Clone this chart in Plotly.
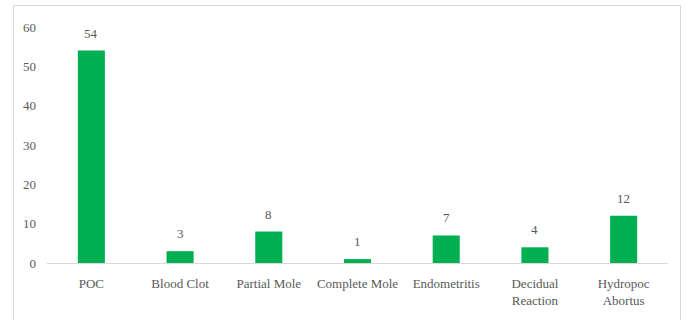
import plotly.graph_objects as go

categories = ["POC", "Blood Clot", "Partial Mole", "Complete Mole", "Endometritis",
              "Decidual<br>Reaction", "Hydropoc<br>Abortus"]
values = [54, 3, 8, 1, 7, 4, 12]
y_ticks = [0, 10, 20, 30, 40, 50, 60]

W, H = 686, 320
ML, MR, MT, MB = 47, 18, 27, 57
pw = W - ML - MR
ph = H - MT - MB

font = dict(family="Liberation Serif", size=13, color="#595959")

fig = go.Figure()
fig.add_trace(go.Bar(x=categories, y=values, marker_color="#00B050", marker_line_width=0,
                     hoverinfo="skip"))

for c, v in zip(categories, values):
    fig.add_annotation(x=c, y=v, text=str(v), showarrow=False, yanchor="bottom",
                       yshift=8, font=font)

def px_x(x):
    return (x - ML) / pw

def px_y(y):
    return (H - MB - y) / ph

fig.add_shape(type="rect", xref="paper", yref="paper",
              x0=px_x(13.5), x1=px_x(680.5), y0=px_y(330), y1=px_y(5.5),
              line=dict(color="#d9d9d9", width=1), fillcolor="rgba(0,0,0,0)", layer="below")

fig.update_layout(
    width=W, height=H,
    margin=dict(l=ML, r=MR, t=MT, b=MB, pad=0),
    paper_bgcolor="white", plot_bgcolor="white",
    showlegend=False, bargap=0.695,
    font=font,
    xaxis=dict(showline=True, linecolor="#d9d9d9", linewidth=1, ticks="",
               tickfont=font, ticklabelstandoff=8, showgrid=False, zeroline=False),
    yaxis=dict(range=[0, 60], tickvals=y_ticks, showline=False, showgrid=False,
               zeroline=False, ticks="", tickfont=font, ticklabelstandoff=10),
)

fig.write_html("out.html")
